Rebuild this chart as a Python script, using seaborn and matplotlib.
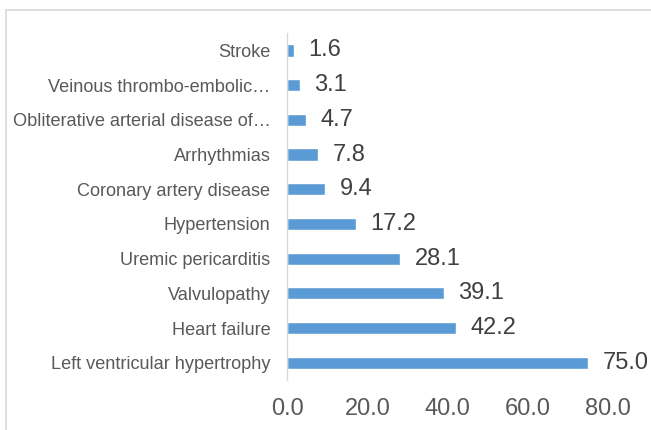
import matplotlib.pyplot as plt
import matplotlib.patches as mpatches
import pandas as pd
import seaborn as sns

# Data (top to bottom)
categories = ['Stroke', 'Veinous thrombo-embolic…', 'Obliterative arterial disease of…',
              'Arrhythmias', 'Coronary artery disease', 'Hypertension',
              'Uremic pericarditis', 'Valvulopathy', 'Heart failure',
              'Left ventricular hypertrophy']
values = [1.6, 3.1, 4.7, 7.8, 9.4, 17.2, 28.1, 39.1, 42.2, 75.0]
x_ticks = [0, 20, 40, 60, 80]

df = pd.DataFrame({'category': categories, 'value': values})

sns.set_style('white')
plt.rcParams['font.family'] = ['Liberation Sans', 'DejaVu Sans']

fig = plt.figure(figsize=(6.51, 4.30), dpi=100)
ax = fig.add_axes([0.441, 0.116, 0.493, 0.807])

sns.barplot(data=df, x='value', y='category', orient='h', color='#5B9BD5',
            saturation=1, width=0.35, ax=ax)

ax.bar_label(ax.containers[0], fmt='%.1f', padding=10.5, fontsize=17, color='#404040')

ax.set_xlim(0, 80)
ax.set_ylim(9.5, -0.5)
ax.set_xticks(x_ticks)
ax.set_xticklabels([f'{t:.1f}' for t in x_ticks])
ax.set_xlabel('')
ax.set_ylabel('')
ax.tick_params(axis='y', length=0, pad=12, labelsize=13.1, labelcolor='#595959')
ax.tick_params(axis='x', length=0, pad=13, labelsize=17, labelcolor='#595959')

for s in ['top', 'right', 'bottom']:
    ax.spines[s].set_visible(False)
ax.spines['left'].set_color('#D9D9D9')
ax.spines['left'].set_linewidth(1)

# light outer frame as in the reference
fig.patches.append(mpatches.Rectangle((6 / 651, -0.05), 1.0, 1 - 10 / 430 + 0.05,
                                      transform=fig.transFigure, fill=False,
                                      edgecolor='#D9D9D9', linewidth=1.2))

fig.savefig('out.png', dpi=100)
